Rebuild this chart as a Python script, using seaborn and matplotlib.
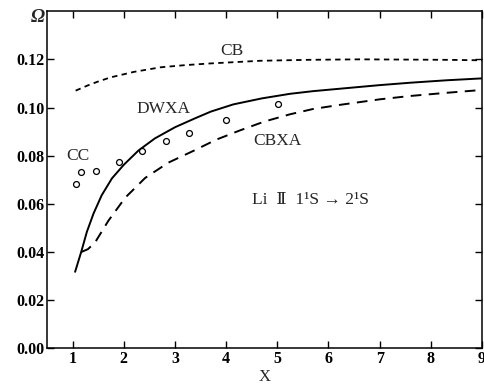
import numpy as np
import pandas as pd
import matplotlib
matplotlib.use("Agg")
import matplotlib.pyplot as plt
import seaborn as sns

# CB (short dashed)
cb_x = [1.06, 1.3, 1.5, 1.74, 2.2, 2.72, 3.2, 3.69, 4.66, 5.6, 6.61, 7.5, 8.3, 9.0]
cb_y = [0.107, 0.1092, 0.1108, 0.1125, 0.1148, 0.1167, 0.1176, 0.1183, 0.1194, 0.1198, 0.1200, 0.1199, 0.1198, 0.1196]
# DWXA (solid)
dw_x = [1.05, 1.17, 1.28, 1.41, 1.57, 1.77, 2.0, 2.29, 2.61, 3.0, 3.38, 3.7, 4.14, 4.7, 5.25, 5.7, 6.22, 7.0, 7.6, 8.3, 9.0]
dw_y = [0.0318, 0.0401, 0.0484, 0.0560, 0.0636, 0.0706, 0.0762, 0.0822, 0.0872, 0.0918, 0.0954, 0.0983, 0.1013, 0.1038, 0.1057, 0.1068, 0.1078, 0.1093, 0.1103, 0.1113, 0.1121]
# CBXA (long dashed)
cbxa_x = [1.18, 1.3, 1.44, 1.57, 1.70, 2.03, 2.42, 2.87, 3.38, 3.8, 4.27, 4.75, 5.25, 5.7, 6.22, 7.0, 7.6, 8.3, 9.0]
cbxa_y = [0.0401, 0.0412, 0.0440, 0.0485, 0.0530, 0.0626, 0.0708, 0.0771, 0.0822, 0.0866, 0.0905, 0.0942, 0.0972, 0.0994, 0.1011, 0.1034, 0.1048, 0.1061, 0.1073]
# CC (circles)
cc_x = [1.06, 1.17, 1.45, 1.90, 2.36, 2.82, 3.27, 4.0, 5.01]
cc_y = [0.0684, 0.0732, 0.0736, 0.0772, 0.0818, 0.0859, 0.0893, 0.0949, 0.1013]

xticks = [1, 2, 3, 4, 5, 6, 7, 8, 9]
yticks = [0.00, 0.02, 0.04, 0.06, 0.08, 0.10, 0.12]

sns.set_style("ticks")
plt.rcParams['font.family'] = ['Liberation Serif', 'DejaVu Serif']

fig = plt.figure(figsize=(4.84, 3.85), dpi=100)
ax = fig.add_axes([0.097, 0.095, 0.899, 0.876])

sns.lineplot(x=cb_x, y=cb_y, ax=ax, color='black', lw=1.3,
             linestyle=(0, (3.0, 2.4)))
sns.lineplot(x=dw_x, y=dw_y, ax=ax, color='black', lw=1.4)
sns.lineplot(x=cbxa_x, y=cbxa_y, ax=ax, color='black', lw=1.4,
             linestyle=(0, (5.5, 3.8)))
sns.scatterplot(x=cc_x, y=cc_y, ax=ax, marker='o', s=18, facecolor='white',
                edgecolor='black', linewidth=0.9, zorder=5)

ax.set_xlim(0.5, 9.0)
ax.set_ylim(0, 0.14)
ax.set_xticks(xticks)
ax.set_xticklabels([str(v) for v in xticks])
ax.set_yticks(yticks)
ax.set_yticklabels([f"{v:.2f}" for v in yticks])
ax.tick_params(direction='in', top=True, right=True, length=5, width=1,
               labelsize=11.5, colors='black', pad=2)
for lab in ax.get_xticklabels() + ax.get_yticklabels():
    lab.set_fontweight('bold')
for sp in ax.spines.values():
    sp.set_color('black')
    sp.set_linewidth(1.1)

ax.set_xlabel('X', fontsize=12, labelpad=1)
ax.set_ylabel('')
fig.text(0.078, 0.955, 'Ω', fontsize=13.5, style='italic', fontweight='bold',
         ha='center', va='center')

ax.text(4.12, 0.1236, 'CB', fontsize=12.5, ha='center', va='center')
ax.text(2.78, 0.0995, 'DWXA', fontsize=12.5, ha='center', va='center')
ax.text(1.1, 0.0800, 'CC', fontsize=12.5, ha='center', va='center')
ax.text(5.0, 0.0863, 'CBXA', fontsize=12.5, ha='center', va='center')
ax.text(4.51, 0.0615, 'Li  Ⅱ  1¹S → 2¹S', fontsize=12.5, ha='left', va='center')

fig.savefig('out.png', dpi=100)
